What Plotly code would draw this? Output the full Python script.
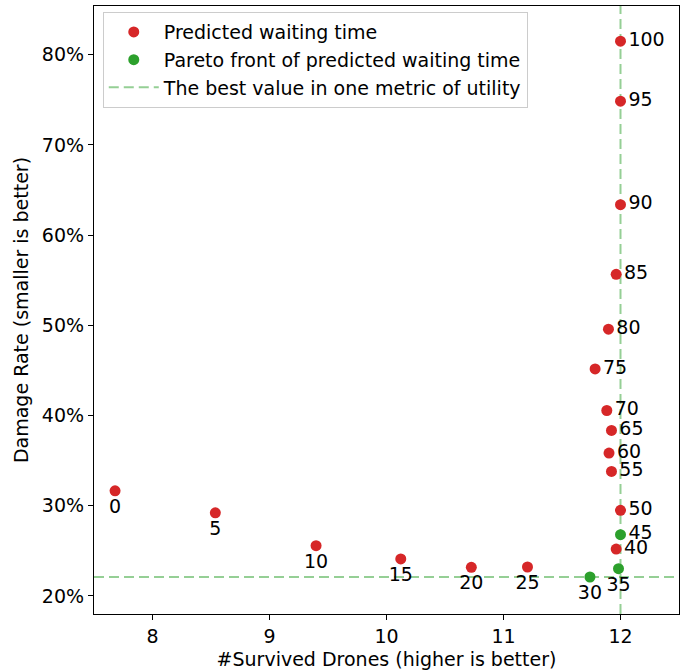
import plotly.graph_objects as go

# Data
labels_red = [0, 5, 10, 15, 20, 25, 40, 50, 55, 60, 65, 70, 75, 80, 85, 90, 95, 100]
drones_red = [7.68, 8.537, 9.398, 10.122, 10.725, 11.205, 11.963, 12.0, 11.923, 11.902,
              11.923, 11.883, 11.783, 11.897, 11.963, 12.0, 12.0, 12.0]
damage_red = [0.3166, 0.2922, 0.2557, 0.241, 0.2318, 0.2321, 0.252, 0.2949, 0.338, 0.3584,
              0.3835, 0.4056, 0.4517, 0.4957, 0.5566, 0.6338, 0.7485, 0.815]

labels_green = [30, 35, 45]
drones_green = [11.739, 11.983, 12.0]
damage_green = [0.221, 0.2302, 0.2679]

best_drones = 12.0
best_damage = 0.221

RED = "#d62728"
GREEN = "#2ca02c"
LINE = "rgba(44,160,44,0.5)"
FONT = "DejaVu Sans"
FS = 19

def pos(lbl):
    return "bottom center" if lbl <= 35 else "middle right"

fig = go.Figure()
fig.add_trace(go.Scatter(
    x=drones_red, y=damage_red, mode="markers+text",
    marker=dict(color=RED, size=11),
    text=[str(l) for l in labels_red],
    textposition=[pos(l) for l in labels_red],
    textfont=dict(size=FS, color="black", family=FONT),
    name="Predicted waiting time"))
fig.add_trace(go.Scatter(
    x=drones_green, y=damage_green, mode="markers+text",
    marker=dict(color=GREEN, size=11),
    text=[str(l) for l in labels_green],
    textposition=[pos(l) for l in labels_green],
    textfont=dict(size=FS, color="black", family=FONT),
    name="Pareto front of predicted waiting time"))
fig.add_trace(go.Scatter(
    x=[None], y=[None], mode="lines",
    line=dict(color=LINE, width=2, dash="10px,5px"),
    name="The best value in one metric of utility"))

fig.add_hline(y=best_damage, line=dict(color=LINE, width=2, dash="10px,5px"), layer="below")
fig.add_vline(x=best_drones, line=dict(color=LINE, width=2, dash="10px,5px"), layer="below")

axis_common = dict(showline=True, mirror=True, linecolor="black", linewidth=1.2,
                   ticks="outside", ticklen=5, tickcolor="black", showgrid=False,
                   zeroline=False, automargin=False,
                   tickfont=dict(size=FS, color="black", family=FONT))

fig.update_layout(
    width=685, height=670,
    margin=dict(l=94, r=6, t=6, b=56),
    paper_bgcolor="white", plot_bgcolor="white",
    font=dict(family=FONT, size=FS, color="black"),
    showlegend=True,
    legend=dict(x=0.015, y=0.99, xanchor="left", yanchor="top",
                bgcolor="rgba(255,255,255,0.8)", bordercolor="#cccccc", borderwidth=1,
                font=dict(size=FS, family=FONT), tracegroupgap=0, itemwidth=50),
    xaxis=dict(range=[7.5, 12.5], tickvals=[8, 9, 10, 11, 12],
               title=dict(text="#Survived Drones (higher is better)",
                          font=dict(size=FS, family=FONT)),
               **axis_common),
    yaxis=dict(range=[0.18, 0.854], tickvals=[0.2, 0.3, 0.4, 0.5, 0.6, 0.7, 0.8],
               tickformat=".0%",
               title=dict(text="Damage Rate (smaller is better)", standoff=8,
                          font=dict(size=FS, family=FONT)),
               **axis_common),
)

fig.write_html("out.html", config={"displayModeBar": False},
               post_script="document.body.style.margin='0px';")
